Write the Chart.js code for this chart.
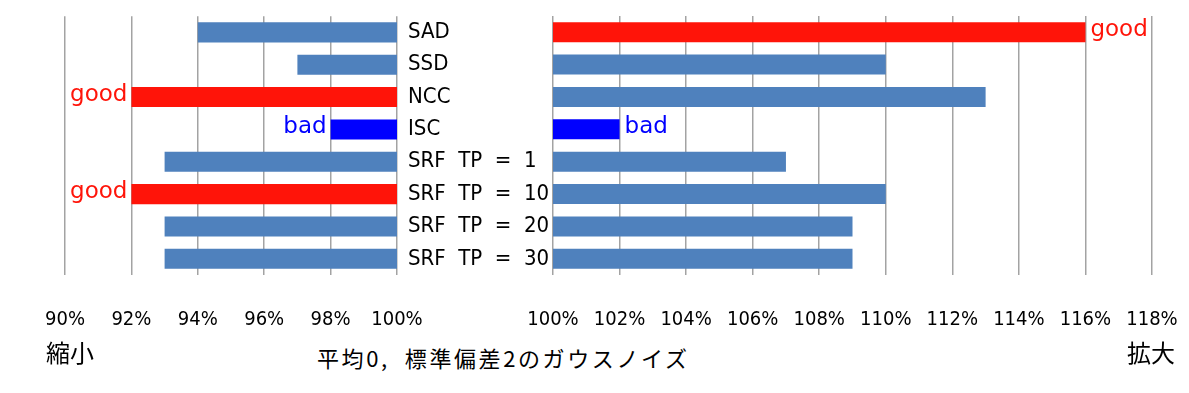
<!DOCTYPE html>
<html>
<head>
<meta charset="utf-8">
<script src="https://cdn.jsdelivr.net/npm/chart.js@4.4.1/dist/chart.umd.min.js"></script>
<style>
  html, body { margin: 0; padding: 0; background: #fff; }
  #wrap { position: relative; width: 1189px; height: 393px; overflow: hidden; }
  .box { position: absolute; top: 0; height: 335px; }
  #leftBox { left: 0; width: 553px; }
  #rightBox { left: 500px; width: 689px; }
  .caption { position: absolute; font-family: 'Noto Sans CJK JP', sans-serif; font-size: 24px; color: #000; line-height: 1; white-space: pre; }
  #noise { font-size: 22px; letter-spacing: 2.6px; }
</style>
</head>
<body>
<div id="wrap">
  <div class="box" id="leftBox"><canvas id="shrinkChart"></canvas></div>
  <div class="box" id="rightBox"><canvas id="enlargeChart"></canvas></div>
  <div class="caption" style="left:46px; top:340px;">縮小</div>
  <div class="caption" id="noise" style="left:317px; top:346px;">平均0,  標準偏差2のガウスノイズ</div>
  <div class="caption" style="left:1127px; top:340px;">拡大</div>
</div>
<script>
// 手法ごとの倍率 (縮小側は値→100%、拡大側は100%→値)
const methods = ['SAD', 'SSD', 'NCC', 'ISC', 'SRF  TP  =  1', 'SRF  TP  =  10', 'SRF  TP  =  20', 'SRF  TP  =  30'];
const shrinkValues = [94, 97, 92, 98, 93, 92, 93, 93];
const enlargeValues = [116, 110, 113, 102, 107, 110, 109, 109];
const shrinkNotes = ['', '', 'good', 'bad', '', 'good', '', ''];
const enlargeNotes = ['good', '', '', 'bad', '', '', '', ''];
const shrinkRange = [90, 100];
const enlargeRange = [100, 118];

const barBlue = '#4f81bd';
const goodRed = '#ff1409';
const badBlue = '#0000ff';
const gridGray = '#a3a3a3';

function barColor(note) {
    if (note === 'good') return goodRed;
    if (note === 'bad') return badBlue;
    return barBlue;
}

// good / bad の文字をバーの端に描く
const notesPlugin = {
    id: 'notes',
    afterDatasetsDraw(chart, args, opts) {
        const ctx = chart.ctx;
        const xs = chart.scales.x;
        const ys = chart.scales.y;
        ctx.save();
        ctx.font = '23px "DejaVu Sans", sans-serif';
        ctx.textBaseline = 'middle';
        opts.notes.forEach((n, i) => {
            if (!n) return;
            const x = xs.getPixelForValue(opts.values[i]);
            ctx.fillStyle = n === 'good' ? goodRed : badBlue;
            ctx.textAlign = opts.side === 'left' ? 'right' : 'left';
            ctx.fillText(n, x + (opts.side === 'left' ? -4 : 5), ys.getPixelForValue(i) - 2);
        });
        ctx.restore();
    }
};

const tickFont = { family: "'DejaVu Sans Condensed', 'DejaVu Sans'", size: 20 };

function xScale(range) {
    return {
        min: range[0],
        max: range[1],
        ticks: {
            stepSize: 2,
            autoSkip: false,
            maxRotation: 0,
            color: '#000',
            font: tickFont,
            padding: 0,
            callback: v => v + '%'
        },
        // 目盛り線は透明にして、ラベルを下へ離すためだけに使う
        grid: { color: gridGray, lineWidth: 1.5, drawTicks: true, tickLength: 33, tickColor: 'rgba(0,0,0,0)' },
        border: { display: false },
        afterFit: s => { s.height = 60; }
    };
}

Chart.defaults.animation = false;

new Chart(document.getElementById('shrinkChart').getContext('2d'), {
    type: 'bar',
    data: {
        labels: methods,
        datasets: [{
            data: shrinkValues.map(v => [v, shrinkRange[1]]),
            backgroundColor: shrinkNotes.map(barColor),
            barPercentage: 0.62,
            categoryPercentage: 1
        }]
    },
    options: {
        indexAxis: 'y',
        responsive: true,
        maintainAspectRatio: false,
        layout: { padding: { left: 65, top: 16, right: 0, bottom: 0 } },
        scales: {
            x: xScale(shrinkRange),
            y: {
                position: 'right',
                grid: { display: false },
                border: { display: false },
                ticks: {
                    crossAlign: 'near',
                    padding: 3,
                    color: '#000',
                    font: { family: "'Liberation Sans Narrow', 'DejaVu Sans Condensed'", size: 22 }
                },
                afterFit: s => { s.width = 156; }
            }
        },
        plugins: {
            legend: { display: false },
            tooltip: { enabled: false },
            notes: { values: shrinkValues, notes: shrinkNotes, side: 'left' }
        }
    },
    plugins: [notesPlugin]
});

new Chart(document.getElementById('enlargeChart').getContext('2d'), {
    type: 'bar',
    data: {
        labels: methods,
        datasets: [{
            data: enlargeValues.map(v => [enlargeRange[0], v]),
            backgroundColor: enlargeNotes.map(barColor),
            barPercentage: 0.62,
            categoryPercentage: 1
        }]
    },
    options: {
        indexAxis: 'y',
        responsive: true,
        maintainAspectRatio: false,
        layout: { padding: { left: 53, top: 16, right: 37, bottom: 0 } },
        scales: {
            x: xScale(enlargeRange),
            y: { display: false }
        },
        plugins: {
            legend: { display: false },
            tooltip: { enabled: false },
            notes: { values: enlargeValues, notes: enlargeNotes, side: 'right' }
        }
    },
    plugins: [notesPlugin]
});
</script>
</body>
</html>
